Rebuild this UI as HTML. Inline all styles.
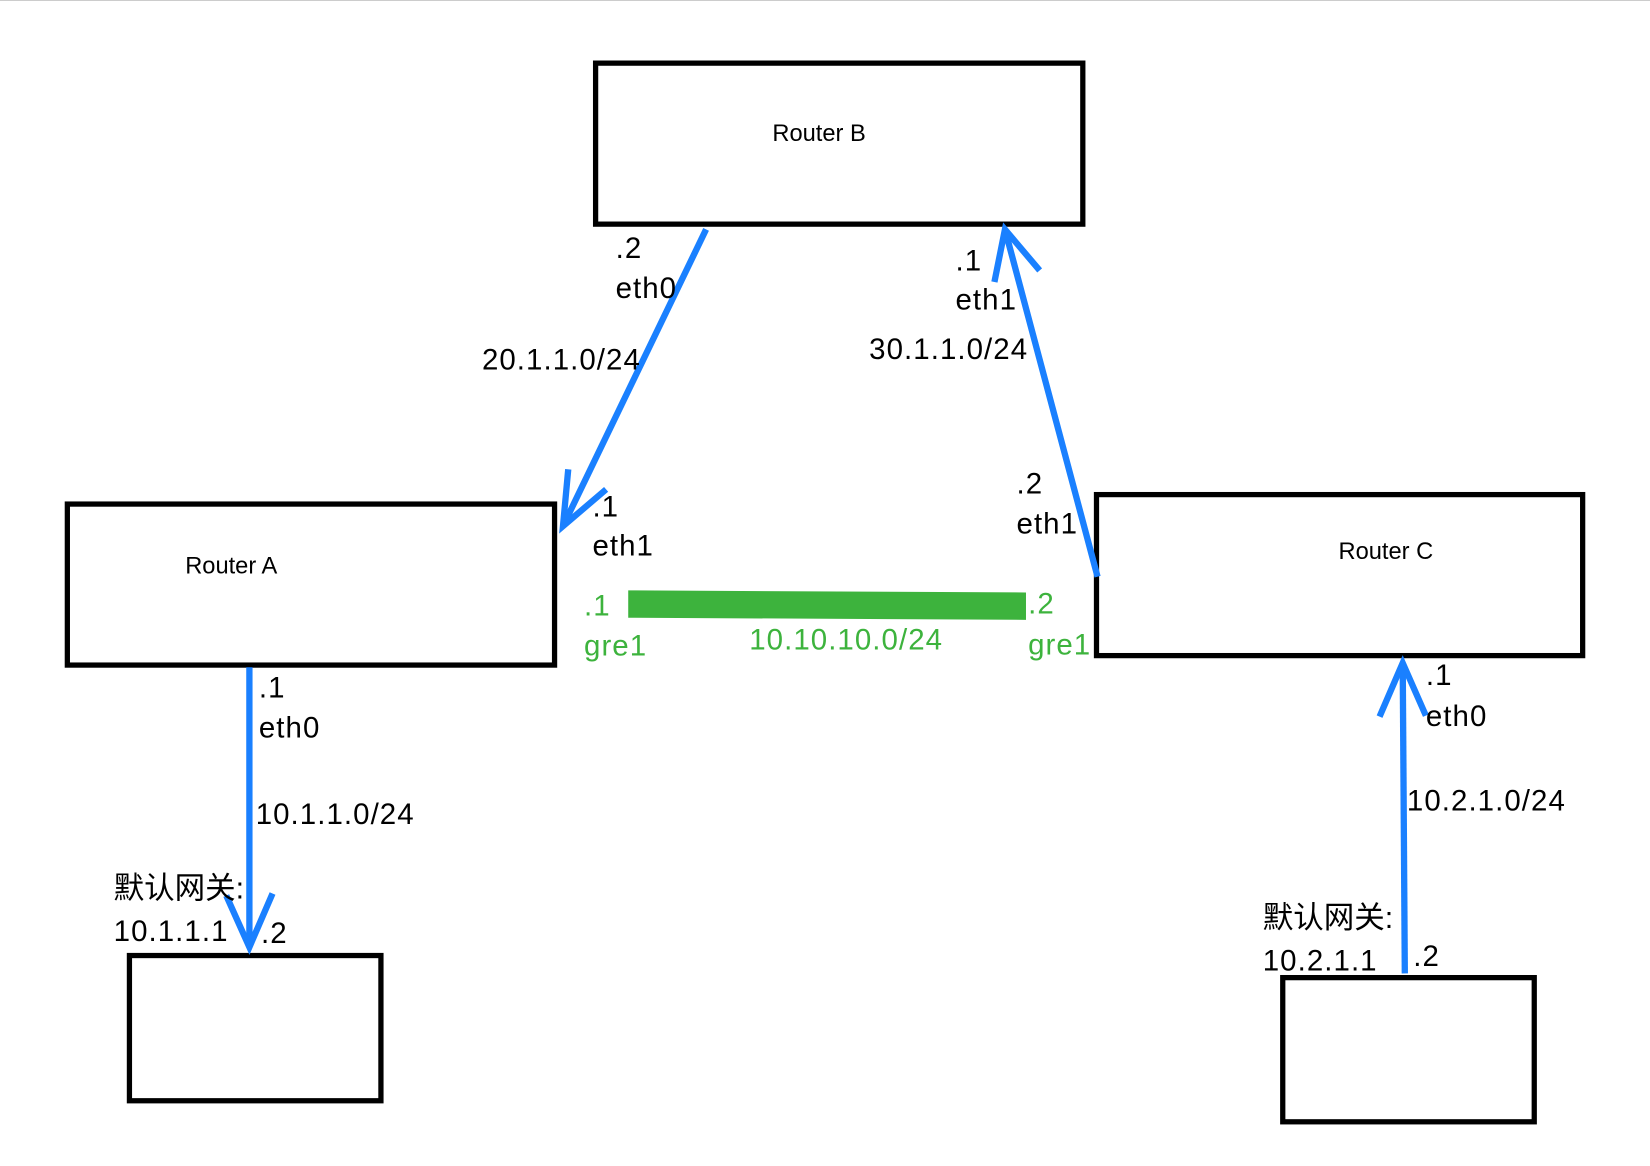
<!DOCTYPE html>
<html><head><meta charset="utf-8"><style>
html,body{margin:0;padding:0;background:#fff;}
svg{display:block;}
text{font-family:"Liberation Sans","Noto Sans CJK SC",sans-serif;}
</style></head><body>
<svg width="1650" height="1166" viewBox="0 0 1568 1108" preserveAspectRatio="none" xmlns="http://www.w3.org/2000/svg">
<line x1="0" y1="0.5" x2="1650" y2="0.5" stroke="#ccc" stroke-width="1"/>
<g fill="none" stroke="#000" stroke-width="5">
<rect x="566" y="60" width="463" height="153"/>
<rect x="64" y="479" width="463" height="153"/>
<rect x="1042" y="470" width="462" height="153"/>
<rect x="123" y="908" width="239" height="138"/>
<rect x="1219" y="929" width="239" height="137"/>
</g>
<g font-size="22.5" fill="#000">
<text x="734" y="134">Router B</text>
<text x="176" y="545">Router A</text>
<text x="1272" y="531">Router C</text>
</g>
<g fill="none" stroke="#1a80ff" stroke-width="6">
<line x1="671" y1="218" x2="535" y2="500"/>
<polyline points="540,446 535,500 576,465"/>
<line x1="1043" y1="548" x2="955" y2="218"/>
<polyline points="945,268 955,218 988,257"/>
<line x1="237" y1="634" x2="237" y2="900"/>
<polyline points="215,851 237,900 259,849"/>
<line x1="1335" y1="925" x2="1333" y2="630"/>
<polyline points="1311,681 1333,630 1355,680"/>
</g>
<polygon points="597,561 975,563 975,589 597,587" fill="#3db33d"/>
<g font-size="28" fill="#000" letter-spacing="1">
<text x="585" y="245">.2</text>
<text x="585" y="283">eth0</text>
<text x="458" y="351">20.1.1.0/24</text>
<text x="908" y="257">.1</text>
<text x="908" y="294">eth1</text>
<text x="826" y="341">30.1.1.0/24</text>
<text x="563" y="491">.1</text>
<text x="563" y="528">eth1</text>
<text x="966" y="469">.2</text>
<text x="966" y="507">eth1</text>
<text x="246" y="663">.1</text>
<text x="246" y="701">eth0</text>
<text x="243" y="783">10.1.1.0/24</text>
<text x="108" y="854" font-size="29" letter-spacing="0">默认网关:</text>
<text x="108" y="894">10.1.1.1</text>
<text x="248" y="896">.2</text>
<text x="1355" y="651">.1</text>
<text x="1355" y="690">eth0</text>
<text x="1337" y="770">10.2.1.0/24</text>
<text x="1200" y="882" font-size="29" letter-spacing="0">默认网关:</text>
<text x="1200" y="922">10.2.1.1</text>
<text x="1343" y="918">.2</text>
</g>
<g font-size="28" fill="#3db33d" letter-spacing="1">
<text x="555" y="585">.1</text>
<text x="555" y="623">gre1</text>
<text x="712" y="617">10.10.10.0/24</text>
<text x="977" y="583">.2</text>
<text x="977" y="622">gre1</text>
</g>
</svg>
</body></html>
